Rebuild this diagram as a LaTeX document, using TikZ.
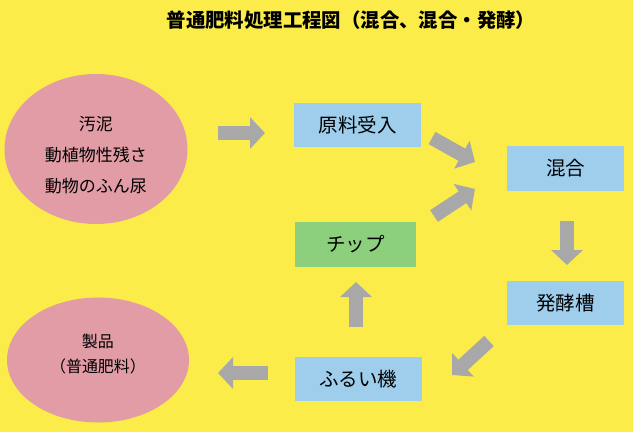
\documentclass[tikz,border=0pt]{standalone}
\usepackage{fontspec}
\setmainfont{Noto Sans CJK JP}
\usetikzlibrary{arrows.meta,shapes.geometric}
\definecolor{bgyellow}{RGB}{252,236,74}
\definecolor{pinkfill}{RGB}{226,156,166}
\definecolor{bluefill}{RGB}{158,206,236}
\definecolor{greenfill}{RGB}{140,208,126}
\definecolor{arrowgray}{RGB}{168,168,168}
\tikzset{
  srcell/.style={ellipse, fill=pinkfill, inner sep=0pt, align=center, text=black},
  procbox/.style={rectangle, fill=bluefill, inner sep=0pt, minimum height=44pt, font=\fontsize{19.5}{24}\selectfont},
  chipbox/.style={rectangle, fill=greenfill, inner sep=0pt, minimum height=45pt, font=\fontsize{19.5}{24}\selectfont},
  blk/.style={draw=arrowgray, line width=14pt, line cap=butt, -{Triangle[length=15pt,width=31pt]}}
}
\begin{document}
\begin{tikzpicture}[x=1pt,y=-1pt]
\fill[bgyellow] (0,0) rectangle (633,432);
\useasboundingbox (0,0) rectangle (633,432);

\node[font=\bfseries\fontsize{19.4}{22}\selectfont] (title) at (351,20) {普通肥料処理工程図（混合、混合・発酵）};

\node[srcell, minimum width=183pt, minimum height=150pt, font=\fontsize{17}{31}\selectfont] (src) at (96,149) {\rule{0pt}{27pt}汚泥\\動植物性残さ\\動物のふん尿};
\node[srcell, minimum width=182pt, minimum height=125pt, font=\fontsize{16}{25}\selectfont] (prod) at (98,360) {製品\\（普通肥料）\rule[-13pt]{0pt}{13pt}};

\node[procbox, minimum width=127pt] (raw) at (357.5,125) {原料受入};
\node[procbox, minimum width=117pt, minimum height=45pt] (mix) at (565.5,168.5) {混合};
\node[chipbox, minimum width=121pt] (chip) at (355.5,244.5) {チップ};
\node[procbox, minimum width=117pt] (ferm) at (565.5,303) {発酵槽};
\node[procbox, minimum width=127pt] (sieve) at (358,379) {ふるい機};

\coordinate (a1s) at (218,133);  \coordinate (a1e) at (265,133);
\coordinate (a2s) at (432,138);  \coordinate (a2e) at (475,162);
\coordinate (a3s) at (434,216);  \coordinate (a3e) at (475,189);
\coordinate (a4s) at (567,221);  \coordinate (a4e) at (567,265);
\coordinate (a5s) at (489,341);  \coordinate (a5e) at (452,375);
\coordinate (a6s) at (356,327);  \coordinate (a6e) at (356,282);
\coordinate (a7s) at (268,373);  \coordinate (a7e) at (218,373);

\draw[blk] (a1s) -- (a1e);
\draw[blk] (a2s) -- (a2e);
\draw[blk] (a3s) -- (a3e);
\draw[blk] (a4s) -- (a4e);
\draw[blk] (a5s) -- (a5e);
\draw[blk] (a6s) -- (a6e);
\draw[blk] (a7s) -- (a7e);
\end{tikzpicture}
\end{document}
